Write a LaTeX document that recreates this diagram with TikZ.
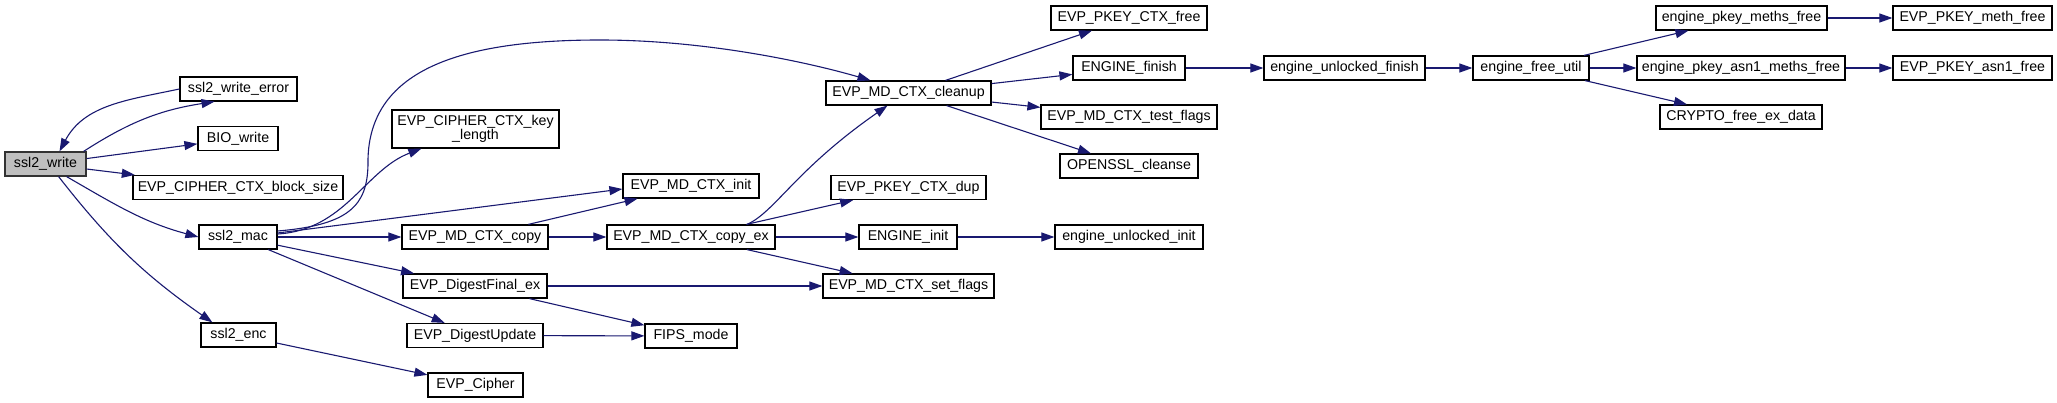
\documentclass[tikz,border=0pt]{standalone}
\usepackage{fontspec}
\setmainfont{Liberation Sans}
\usetikzlibrary{arrows.meta}
\definecolor{EdgeNavy}{RGB}{25,25,112}
\definecolor{RootGray}{RGB}{191,191,191}
\tikzset{
  fn/.style={draw=black,line width=1.2pt,fill=white,text=black,font=\fontsize{14.2}{13.5}\selectfont,minimum height=24pt,inner sep=0pt,align=center},
  rootfn/.style={fn,fill=RootGray,draw=black!80},
  calls/.style={-{Triangle[length=13pt,width=9pt]},line width=1.1pt,draw=EdgeNavy}
}
\begin{document}
\begin{tikzpicture}[x=1pt,y=-1pt]
  \useasboundingbox (0,0) rectangle (2057,403);
  \node[rootfn,minimum width=81pt] (write) at (45.5,164) {ssl2\_write};
  \node[fn,minimum width=117pt] (wrerr) at (238.5,89) {ssl2\_write\_error};
  \node[fn,minimum width=80pt] (bio) at (238,138.5) {BIO\_write};
  \node[fn,minimum width=210pt] (blk) at (238,187.5) {EVP\_CIPHER\_CTX\_block\_size};
  \node[fn,minimum width=78pt] (mac) at (238,237) {ssl2\_mac};
  \node[fn,minimum width=75pt] (enc) at (238.5,335) {ssl2\_enc};
  \node[fn,minimum width=167pt,minimum height=38pt] (keylen) at (475.5,129) {EVP\_CIPHER\_CTX\_key\\\_length};
  \node[fn,minimum width=136pt] (mdinit) at (691,186) {EVP\_MD\_CTX\_init};
  \node[fn,minimum width=146pt] (mdcopy) at (475,237) {EVP\_MD\_CTX\_copy};
  \node[fn,minimum width=168pt] (copyex) at (691,237) {EVP\_MD\_CTX\_copy\_ex};
  \node[fn,minimum width=144pt] (dfinal) at (475,286) {EVP\_DigestFinal\_ex};
  \node[fn,minimum width=136pt] (dupd) at (475,335.5) {EVP\_DigestUpdate};
  \node[fn,minimum width=92pt] (fips) at (691,336) {FIPS\_mode};
  \node[fn,minimum width=95pt] (cipher) at (475.5,385) {EVP\_Cipher};
  \node[fn,minimum width=165pt] (cleanup) at (908.5,93) {EVP\_MD\_CTX\_cleanup};
  \node[fn,minimum width=155pt] (pkdup) at (908.5,187.5) {EVP\_PKEY\_CTX\_dup};
  \node[fn,minimum width=98pt] (enginit) at (908,237) {ENGINE\_init};
  \node[fn,minimum width=171pt] (setfl) at (908.5,286) {EVP\_MD\_CTX\_set\_flags};
  \node[fn,minimum width=156pt] (pkfree) at (1129,18) {EVP\_PKEY\_CTX\_free};
  \node[fn,minimum width=112pt] (engfin) at (1129,68) {ENGINE\_finish};
  \node[fn,minimum width=176pt] (testfl) at (1129,117) {EVP\_MD\_CTX\_test\_flags};
  \node[fn,minimum width=138pt] (cleanse) at (1129,166) {OPENSSL\_cleanse};
  \node[fn,minimum width=148pt] (uinit) at (1129,237) {engine\_unlocked\_init};
  \node[fn,minimum width=161pt] (ufin) at (1344.5,68) {engine\_unlocked\_finish};
  \node[fn,minimum width=116pt] (futil) at (1531,68) {engine\_free\_util};
  \node[fn,minimum width=171pt] (pmeths) at (1741.5,18) {engine\_pkey\_meths\_free};
  \node[fn,minimum width=208pt] (ameths) at (1741,68) {engine\_pkey\_asn1\_meths\_free};
  \node[fn,minimum width=162pt] (exdata) at (1741,117) {CRYPTO\_free\_ex\_data};
  \node[fn,minimum width=159pt] (methfree) at (1972.5,18) {EVP\_PKEY\_meth\_free};
  \node[fn,minimum width=159pt] (asnfree) at (1972.5,68) {EVP\_PKEY\_asn1\_free};
  % ssl2_write
  \draw[calls] ([xshift=-3pt]write.north east) to[bend left=12] ([xshift=-24pt]wrerr.south);
  \draw[calls] (wrerr.west) to[out=192,in=62] ([xshift=14pt]write.north);
  \draw[calls] (write)--(bio);
  \draw[calls] (write)--(blk);
  \draw[calls] ([xshift=-20pt]write.south east) to[out=-30,in=165] (mac.west);
  \draw[calls] ([xshift=-28pt]write.south east) to[out=-52,in=145] ([xshift=12pt]enc.north west);
  % ssl2_mac
  \draw[calls] ([yshift=6pt]mac.east) .. controls (350,225) and (367,205) .. (368,165)
    .. controls (366,70) and (460,40) .. (600,40) .. controls (700,40) and (800,60) .. ([xshift=-38pt]cleanup.north);
  \draw[calls] ([yshift=3pt]mac.east) .. controls (345,230) and (365,170) .. ([xshift=30pt]keylen.south west);
  \draw[calls] ([yshift=4pt]mac.east)--([yshift=-3pt]mdinit.west);
  \draw[calls] (mac)--(mdcopy);
  \draw[calls] (mac)--(dfinal);
  \draw[calls] (mac)--(dupd);
  \draw[calls] (enc)--(cipher);
  % digest calls
  \draw[calls] (mdcopy)--(mdinit);
  \draw[calls] (mdcopy)--(copyex);
  \draw[calls] ([xshift=56pt]copyex.north) .. controls (775,212) and (795,170) .. ([xshift=-21pt]cleanup.south);
  \draw[calls] (copyex)--(pkdup);
  \draw[calls] (copyex)--(enginit);
  \draw[calls] (copyex)--(setfl);
  \draw[calls] (dfinal)--(setfl);
  \draw[calls] (dfinal)--(fips);
  \draw[calls] (dupd)--(fips);
  % cleanup and engine
  \draw[calls] (cleanup)--(pkfree);
  \draw[calls] (cleanup)--(engfin);
  \draw[calls] (cleanup)--(testfl);
  \draw[calls] (cleanup)--(cleanse);
  \draw[calls] (engfin)--(ufin);
  \draw[calls] (ufin)--(futil);
  \draw[calls] (futil)--(pmeths);
  \draw[calls] (futil)--(ameths);
  \draw[calls] (futil)--(exdata);
  \draw[calls] (pmeths)--(methfree);
  \draw[calls] (ameths)--(asnfree);
  \draw[calls] (enginit)--(uinit);
\end{tikzpicture}
\end{document}
